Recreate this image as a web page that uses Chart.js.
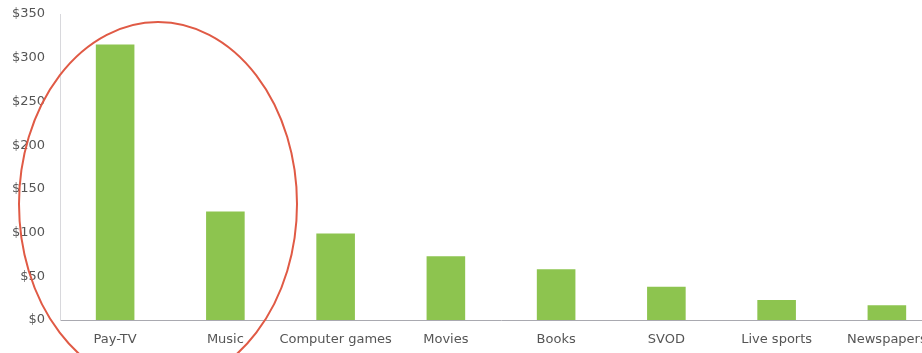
<!DOCTYPE html>
<html>
<head>
<meta charset="utf-8">
<script src="https://cdn.jsdelivr.net/npm/chart.js@4.4.1/dist/chart.umd.min.js"></script>
<style>
  html, body { margin: 0; padding: 0; background: #fff; overflow: hidden; }
  #wrap { width: 942px; height: 353px; }
</style>
</head>
<body>
<div id="wrap"><canvas id="spendChart"></canvas></div>
<script>
var categories = ['Pay-TV', 'Music', 'Computer games', 'Movies', 'Books', 'SVOD', 'Live sports', 'Newspapers'];
var spend = [315, 124, 99, 73, 58, 38, 23, 17];
var yTicks = [0, 50, 100, 150, 200, 250, 300, 350];

// red hand-drawn ring around the first two bars
var ringPlugin = {
    id: 'ring',
    afterDraw: function (chart) {
        var ctx = chart.ctx;
        var area = chart.chartArea;
        ctx.save();
        ctx.beginPath();
        ctx.ellipse(area.left + 98, area.top + 190, 139, 182, 0, 0, Math.PI * 2);
        ctx.strokeStyle = '#e05a45';
        ctx.lineWidth = 2;
        ctx.stroke();
        ctx.restore();
    }
};

var tickFont = { family: 'DejaVu Sans', size: 13 };

new Chart(document.getElementById('spendChart'), {
    type: 'bar',
    data: {
        labels: categories,
        datasets: [{
            label: 'spend',
            data: spend,
            backgroundColor: '#8dc44f',
            borderWidth: 0,
            barPercentage: 0.35,
            categoryPercentage: 1
        }]
    },
    options: {
        responsive: true,
        maintainAspectRatio: false,
        animation: false,
        layout: { padding: { top: 14, right: 0, left: 0, bottom: 0 } },
        plugins: {
            legend: { display: false },
            tooltip: { enabled: false }
        },
        scales: {
            x: {
                grid: { display: false, drawTicks: false },
                border: { display: true, color: '#a9a9b0', width: 1 },
                ticks: { color: '#555', font: tickFont, padding: 12, maxRotation: 0, autoSkip: false },
                afterFit: function (scale) { scale.height = 33; }
            },
            y: {
                min: 0,
                max: 350,
                afterBuildTicks: function (scale) {
                    scale.ticks = yTicks.map(function (v) { return { value: v }; });
                },
                grid: { display: false, drawTicks: false },
                border: { display: true, color: '#d8d8dc', width: 1 },
                ticks: {
                    color: '#555',
                    font: tickFont,
                    padding: 15,
                    callback: function (v) { return '$' + v; }
                },
                // fixed axis width, and let the layout padding set the top edge
                afterFit: function (scale) { scale.width = 60; scale.paddingTop = 0; }
            }
        }
    },
    plugins: [ringPlugin]
});
</script>
</body>
</html>
